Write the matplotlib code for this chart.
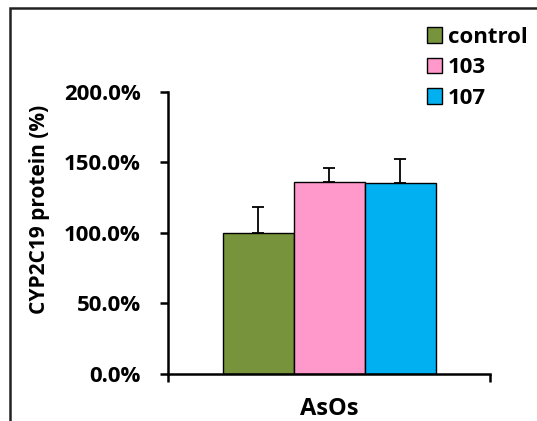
import matplotlib
matplotlib.use("Agg")
import matplotlib.pyplot as plt
from matplotlib.patches import Rectangle
from matplotlib.ticker import PercentFormatter

# CYP2C19 protein levels (% of control), with upper error bars
groups = ["control", "103", "107"]
values = [100.0, 136.3, 135.0]
errors = [18.0, 9.3, 17.0]
colors = ["#77933C", "#FF99CC", "#00B0F0"]
yticks = [0, 50, 100, 150, 200]

plt.rcParams['font.family'] = ['Open Sans', 'DejaVu Sans']
plt.rcParams['font.weight'] = 'bold'

fig = plt.figure(figsize=(5.37, 4.21), dpi=100)
ax = fig.add_axes([0.3134, 0.1116, 0.599, 0.6706])

width = 0.2207
offsets = [-width, 0.0, width]
for name, v, e, c, off in zip(groups, values, errors, colors, offsets):
    ax.bar(off, v, width=width, color=c, edgecolor='black', linewidth=1.0,
           label=name, zorder=2)
    ax.errorbar(off, v, yerr=[[0], [e]], fmt='none', ecolor='black',
                elinewidth=1.3, capsize=4, capthick=1.3, zorder=3)

ax.set_xlim(-0.5, 0.5)
ax.set_ylim(0, 200)
ax.set_yticks(yticks)
ax.yaxis.set_major_formatter(PercentFormatter(decimals=1))
ax.set_xticks([-0.5, 0.5])
ax.set_xticklabels(['', ''])
ax.tick_params(axis='y', direction='out', length=6, width=1.8, pad=14, labelsize=16)
ax.tick_params(axis='x', direction='out', length=6, width=1.8)
for lab in ax.get_yticklabels():
    lab.set_fontweight('bold')

for side in ['top', 'right']:
    ax.spines[side].set_visible(False)
for side in ['left', 'bottom']:
    ax.spines[side].set_linewidth(1.8)

ax.set_ylabel('CYP2C19 protein (%)', fontsize=15, fontweight='bold')
ax.yaxis.set_label_coords(-0.399, 0.584)
ax.yaxis.label.set_va('center')
ax.set_xlabel('AsOs', fontsize=17, fontweight='bold')
ax.xaxis.set_label_coords(0.5, -0.124)
ax.xaxis.label.set_va('center')

fig.legend(loc='upper left', bbox_to_anchor=(418 / 537, 1 - 18 / 421),
           frameon=False, handlelength=0.7, handleheight=0.7,
           handletextpad=0.25, labelspacing=0.42, borderaxespad=0,
           prop={'weight': 'bold', 'size': 16})

# outer frame around the panel
fig.patches.append(Rectangle((10 / 537, -0.1), 1.2, 1 - 8.3 / 421 + 0.1,
                             transform=fig.transFigure, fill=False,
                             edgecolor='#222222', linewidth=1.8))

fig.savefig('out.png', dpi=100)
